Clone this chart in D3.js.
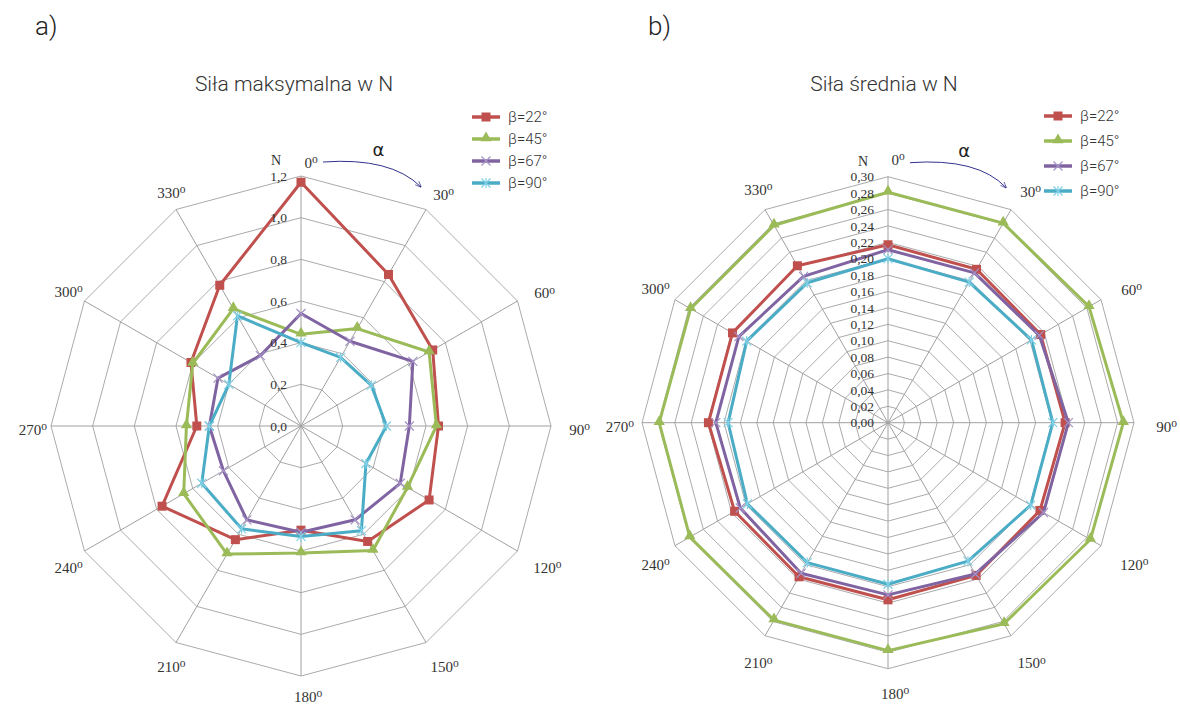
<!DOCTYPE html>
<html>
<head>
<meta charset="utf-8">
<script src="https://cdn.jsdelivr.net/npm/d3@7"></script>
<style>
  body { margin: 0; background: #fff; }
  svg { display: block; }
</style>
</head>
<body>
<svg id="chart" width="1180" height="712"></svg>
<script>
// angle categories (degrees)
var angles = [0, 30, 60, 90, 120, 150, 180, 210, 240, 270, 300, 330];
var seriesNames = ["β=22°", "β=45°", "β=67°", "β=90°"];

// a) max force in N
var maxF22 = [1.17, 0.84, 0.73, 0.66, 0.71, 0.64, 0.50, 0.63, 0.77, 0.50, 0.61, 0.78];
var maxF45 = [0.44, 0.54, 0.71, 0.65, 0.59, 0.69, 0.61, 0.71, 0.65, 0.55, 0.60, 0.65];
var maxF67 = [0.54, 0.47, 0.62, 0.52, 0.55, 0.52, 0.51, 0.52, 0.43, 0.44, 0.46, 0.39];
var maxF90 = [0.40, 0.38, 0.39, 0.41, 0.36, 0.58, 0.53, 0.57, 0.55, 0.44, 0.40, 0.61];

// b) mean force in N
var avgF22 = [0.217, 0.216, 0.215, 0.216, 0.214, 0.215, 0.216, 0.217, 0.216, 0.219, 0.219, 0.221];
var avgF45 = [0.281, 0.281, 0.283, 0.287, 0.285, 0.283, 0.278, 0.278, 0.279, 0.279, 0.278, 0.278];
var avgF67 = [0.211, 0.211, 0.213, 0.220, 0.219, 0.213, 0.210, 0.212, 0.208, 0.210, 0.210, 0.206];
var avgF90 = [0.200, 0.198, 0.202, 0.201, 0.201, 0.195, 0.197, 0.197, 0.198, 0.195, 0.199, 0.197];

// radial ticks
var ticksA = d3.range(0, 1.2001, 0.2);
var ticksB = d3.range(0, 0.3001, 0.02);

var colors = ["#c0504d", "#9bbb59", "#8064a2", "#4bacc6"];
var markerTypes = ["square", "triangle", "cross", "star"];

var svg = d3.select("svg#chart");

svg.append("defs").append("marker")
    .attr("id", "arrow")
    .attr("viewBox", "0 0 10 10")
    .attr("refX", 9).attr("refY", 5)
    .attr("markerWidth", 7).attr("markerHeight", 7)
    .attr("orient", "auto")
  .append("path")
    .attr("d", "M0,1 L10,5 L0,9")
    .attr("fill", "none")
    .attr("stroke", "#1a1a80")
    .attr("stroke-width", 1);

function drawMarker(g, type, color, x, y) {
  if (type == "square") {
    g.append("rect").attr("x", x - 4.5).attr("y", y - 4.5)
      .attr("width", 9).attr("height", 9).attr("fill", color);
  } else if (type == "triangle") {
    g.append("path")
      .attr("d", d3.symbol(d3.symbolTriangle, 55)())
      .attr("transform", "translate(" + x + "," + (y - 1) + ")")
      .attr("fill", color);
  } else if (type == "cross") {
    g.append("path")
      .attr("d", "M" + (x - 4.5) + "," + (y - 4.5) + "L" + (x + 4.5) + "," + (y + 4.5) +
                 "M" + (x - 4.5) + "," + (y + 4.5) + "L" + (x + 4.5) + "," + (y - 4.5))
      .attr("stroke", "#a592c6").attr("stroke-width", 1.2);
  } else {
    g.append("path")
      .attr("d", "M" + (x - 4.5) + "," + (y - 4.5) + "L" + (x + 4.5) + "," + (y + 4.5) +
                 "M" + (x - 4.5) + "," + (y + 4.5) + "L" + (x + 4.5) + "," + (y - 4.5) +
                 "M" + x + "," + (y - 5) + "L" + x + "," + (y + 5))
      .attr("stroke", "#7fd0e6").attr("stroke-width", 1.2);
  }
}

function radarChart(opt) {
  var g = svg.append("g").attr("transform", "translate(" + opt.cx + "," + opt.cy + ")");
  var r = d3.scaleLinear().domain([0, opt.max]).range([0, opt.R]);
  var ang = d3.scaleLinear().domain([0, 360]).range([0, 2 * Math.PI]);
  var fmt = function(v) { return d3.format("." + opt.dec + "f")(v).replace(".", ","); };

  // rings
  var ring = d3.lineRadial()
      .angle(function(d) { return ang(d); })
      .curve(d3.curveLinearClosed);
  g.selectAll("path.ring")
    .data(opt.ticks.slice(1))
    .enter().append("path")
      .attr("class", "ring")
      .attr("d", function(t) { return ring.radius(r(t))(angles); })
      .attr("fill", "none")
      .attr("stroke", "#ababab")
      .attr("stroke-width", 1);

  // spokes
  g.selectAll("line.spoke")
    .data(angles)
    .enter().append("line")
      .attr("class", "spoke")
      .attr("x1", 0).attr("y1", 0)
      .attr("x2", function(a) { return r(opt.max) * Math.sin(ang(a)); })
      .attr("y2", function(a) { return -r(opt.max) * Math.cos(ang(a)); })
      .attr("stroke", "#a0a0a0")
      .attr("stroke-width", 1);

  // series
  var line = d3.lineRadial()
      .angle(function(d, i) { return ang(angles[i]); })
      .radius(function(d) { return r(d); })
      .curve(d3.curveLinearClosed);
  opt.series.forEach(function(s, k) {
    g.append("path")
      .attr("d", line(s))
      .attr("fill", "none")
      .attr("stroke", colors[k])
      .attr("stroke-width", 3)
      .attr("stroke-linejoin", "round");
    s.forEach(function(v, i) {
      var a = ang(angles[i]);
      drawMarker(g, markerTypes[k], colors[k], r(v) * Math.sin(a), -r(v) * Math.cos(a));
    });
  });

  // radial tick labels
  g.selectAll("text.tick")
    .data(opt.ticks)
    .enter().append("text")
      .attr("class", "tick")
      .attr("x", -14)
      .attr("y", function(t) { return -r(t); })
      .attr("dy", "0.35em")
      .attr("text-anchor", "end")
      .style("font-family", "'Liberation Serif', 'Times New Roman', serif")
      .style("font-size", "13.5px")
      .style("fill", "#333")
      .text(fmt);

  g.append("text")
    .attr("x", -25)
    .attr("y", -r(opt.max) - 16)
    .attr("dy", "0.35em")
    .attr("text-anchor", "middle")
    .style("font-family", "'Liberation Serif', 'Times New Roman', serif")
    .style("font-size", "14px")
    .style("fill", "#333")
    .text("N");

  // angle labels: text box kept a gap away from the outer vertex
  angles.forEach(function(a, i) {
    var t = g.append("text")
      .attr("text-anchor", "middle")
      .style("font-family", "'Liberation Serif', 'Times New Roman', serif")
      .style("font-size", "15px")
      .style("fill", "#333");
    t.append("tspan").text(a);
    t.append("tspan").attr("dy", "-0.42em").style("font-size", "11.5px").text("o");
    var bb = t.node().getBBox();
    var sx = Math.sin(ang(a)), sy = -Math.cos(ang(a));
    var x, y;
    if (i == 0) {
      x = 10; y = -opt.R - opt.topGap;
    } else {
      var ext = Math.abs(sx) * bb.width / 2 + Math.abs(sy) * 6;
      var d = opt.R + opt.gap + ext;
      x = d * sx + 7; y = d * sy + 4;
    }
    t.attr("x", x).attr("y", y + 5);
    t.select("tspan").attr("x", x);
  });

  // alpha arrow
  var y0 = -r(opt.max) - 14;
  g.append("path")
    .attr("d", "M22," + y0 + " Q" + 90 + "," + (y0 - 5) + " " + (opt.R * 0.48) + "," + (y0 + 25))
    .attr("fill", "none")
    .attr("stroke", "#1a1a80")
    .attr("stroke-width", 0.9)
    .attr("marker-end", "url(#arrow)");
  g.append("text")
    .attr("x", opt.R * 0.31).attr("y", y0 - 6)
    .attr("text-anchor", "middle")
    .style("font-family", "'DejaVu Sans', sans-serif")
    .style("font-size", "18px")
    .style("fill", "#222")
    .text("α");

  // panel letter and title
  svg.append("text")
    .attr("x", opt.letterX).attr("y", 35)
    .style("font-family", "Roboto, sans-serif")
    .style("font-weight", 300)
    .style("font-size", "26px")
    .style("fill", "#222")
    .text(opt.letter);
  svg.append("text")
    .attr("x", opt.titleX).attr("y", 91)
    .attr("text-anchor", "middle")
    .style("font-family", "Roboto, sans-serif")
    .style("font-weight", 300)
    .style("font-size", "21px")
    .style("fill", "#333")
    .text(opt.title);

  // legend
  var lg = svg.append("g").attr("transform", "translate(" + opt.legX + "," + opt.legY + ")");
  seriesNames.forEach(function(n, k) {
    var yy = k * opt.legStep;
    lg.append("line")
      .attr("x1", 0).attr("x2", 28).attr("y1", yy).attr("y2", yy)
      .attr("stroke", colors[k]).attr("stroke-width", 3.5);
    drawMarker(lg, markerTypes[k], colors[k], 14, yy);
    lg.append("text")
      .attr("x", 36).attr("y", yy).attr("dy", "0.35em")
      .style("font-family", "Roboto, sans-serif")
      .style("font-weight", 300)
      .style("font-size", "15px")
      .style("fill", "#333")
      .text(n);
  });
}

radarChart({
  cx: 301, cy: 426, R: 250, max: 1.2, dec: 1, ticks: ticksA, gap: 11, topGap: 13,
  series: [maxF22, maxF45, maxF67, maxF90],
  letter: "a)", letterX: 35, title: "Siła maksymalna w N", titleX: 294,
  legX: 472, legY: 117, legStep: 22
});

radarChart({
  cx: 888, cy: 422.7, R: 246, max: 0.30, dec: 2, ticks: ticksB, gap: 15, topGap: 17,
  series: [avgF22, avgF45, avgF67, avgF90],
  letter: "b)", letterX: 648, title: "Siła średnia w N", titleX: 884,
  legX: 1044, legY: 116, legStep: 25
});
</script>
</body>
</html>
